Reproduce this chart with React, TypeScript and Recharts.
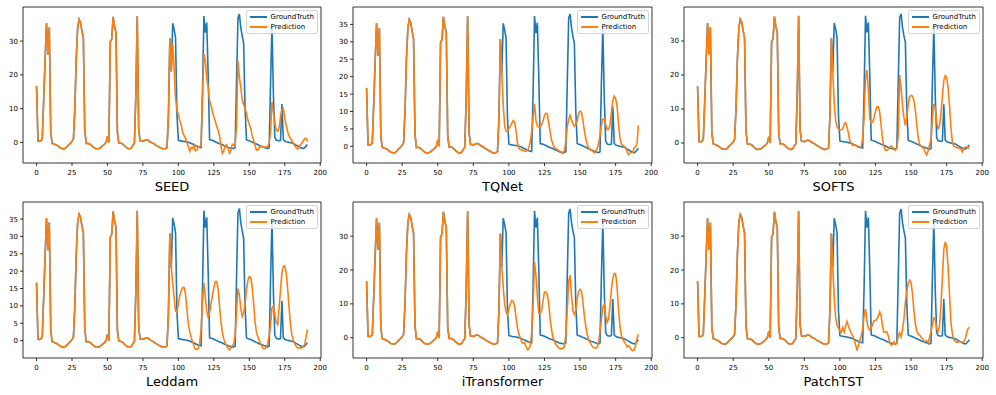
import { LineChart, Line, XAxis, YAxis, Legend, ReferenceLine } from "recharts"

// first 96 steps are the shared input window, the rest is the horizon
const HISTORY_LEN = 96

const groundTruth = [
  16.7, 0.4, 0.3, 0.5, 0.9, 12, 24, 35.3, 26, 34,
  3, -0.3, -0.4, -0.6, -0.8, -1.0, -1.4, -1.7, -1.8, -1.9,
  -1.8, -1.5, -1.0, -0.6, -0.2, 0.3, 1.0, 10, 25, 34,
  36.4, 35.5, 33, 31, 3.5, -0.3, -0.3, -0.4, -0.6, -1.0,
  -1.4, -1.7, -1.9, -1.9, -1.8, -1.6, -1.2, -0.9, -0.5, 0.0,
  1.8, 0.0, 29.8, 30.6, 37.2, 34.3, 32.7, 3.0, -0.2, -0.2,
  -0.3, -0.6, -1.0, -1.4, -1.7, -1.9, -1.9, -1.6, -0.8, -0.3,
  14, 37.4, 4, 0.5, 0.5, 0.4, 0.5, 0.8, 0.8, 0.6,
  0.2, 0.0, -0.2, -0.5, -0.8, -1.0, -1.3, -1.5, -1.7, -1.9,
  -1.9, -1.8, -1.5, 8, 30.8, 21, 35.3, 33.5, 31, 8,
  0.6, 0.5, 0.4, 0.3, 0.3, 0.2, 0.1, 0.0, -0.1, -0.3,
  -0.5, -0.7, -0.9, -1.1, -1.3, -1.4, -1.5, 15, 37.4, 32.5,
  35.5, 20, 0.8, 0.7, 0.6, 0.4, 0.2, 0.0, -0.2, -0.4,
  -0.5, -0.7, -0.9, -1.1, -1.3, -1.5, -1.6, -1.7, -1.8, -1.8,
  -1.6, 18, 36.8, 38, 34, 31.5, 29.5, 10, 0.8, 0.6,
  0.5, 0.3, 0.1, -0.1, -0.3, -0.5, -0.7, -0.9, -1.1, -1.2,
  -1.4, -1.5, -1.7, -1.8, -1.6, 18, 34.5, 14, 1.5, 0.7,
  0.5, 0.5, 0.6, 11.4, 0.8, 0.4, 0.2, 0.1, 0.0, -0.1,
  -0.2, -0.3, -0.5, -0.8, -1.0, -1.3, -1.5, -1.7, -1.8, -1.6,
  -1.1, -0.6,
]

const predSEED = [
  29, 22, 13, 9.5, 8.2, 6.5, 5.2, 3, 2, 1.2,
  0, -1.3, -2.6, -1.5, -1.8, -0.8, -2.5, -2.2, -1.5, -1.3,
  -0.8, 13.5, 26.2, 24.2, 18.8, 16.4, 12.4, 11, 9, 7.5,
  6.3, 4.8, 3.6, 2, -1.0, -3.2, -2.5, -1.0, -0.7, -1.7,
  -3.2, -2.4, -0.5, -0.8, -0.8, 5, 24.2, 19.3, 16.4, 12.6,
  11.3, 10, 8.6, 6.6, 5.3, 4.2, 2, 0.8, -0.8, -2.3,
  -2.3, -1.6, -1.3, -1.3, -1.4, -1.5, -1.3, -1.3, -0.2, 3,
  12, 9, 5.8, 3.8, 3.3, 4.2, 7.5, 9.7, 10, 7.3,
  5, 3.3, 2, 1.2, 0.5, -0.3, -0.9, -1.5, -2, -1.6,
  -0.6, -0.3, 0.5, 1.1, 1.2, 0.3,
]

const predTQNet = [
  12, 6, 4.3, 4.2, 5.1, 5.8, 6.6, 7.4, 7.0, 4.5,
  1.0, -0.5, -1, -1, -1.2, -1.5, -1.4, -1.1, -0.5, 1.5,
  4, 8.3, 12.2, 7.5, 5.8, 5.5, 5.5, 6.2, 7.3, 8.9,
  9.5, 9.3, 6.5, 4, 1.7, 0.5, -0.4, -0.7, -1, -1.2,
  -1.5, -1.9, -2, -1.3, 1.5, 5.5, 7.8, 8.9, 7.5, 6.5,
  5.8, 6.3, 7.4, 9.4, 10.1, 9.8, 7.5, 4.5, 2.2, 0.6,
  -0.4, -0.8, -1.2, -1.5, -1.9, -1.6, -0.6, 0.8, 3, 6.2,
  7.7, 8.0, 6.3, 4.8, 4.9, 6, 9.8, 13, 14.4, 13.8,
  11.5, 6.5, 2.5, 0.7, 0.3, 0, -0.5, -1.5, -2.4, -2,
  -1.8, -1.8, -0.4, -0.2, 0.8, 6,
]

const predSOFTS = [
  12, 6.5, 4.8, 4.1, 3.8, 3.8, 4.2, 5.5, 6, 4.8,
  2.8, 0.6, -0.2, -0.7, -0.6, -0.6, -1.1, -1.3, -1.4, -1.0,
  1.5, 7.5, 19, 21.5, 15.5, 7, 6, 6.2, 7.5, 9.3,
  10.6, 10.6, 9, 5, 0.8, -1, -2.1, -2.1, -1.8, -1.3,
  -0.9, -1.2, -2, -2.1, -1.5, 2, 20, 16, 11, 7.4,
  5.2, 7.5, 11.5, 13.6, 14, 13.8, 12.5, 9.6, 5.5, 1.5,
  -0.4, -0.9, -1.4, -1.6, -2.8, -3.5, -2.3, -0.5, 0.8, 7,
  11.5, 10.5, 6, 4.2, 5, 8.6, 13.5, 18.3, 19.8, 19.3,
  16.5, 11, 4.7, 0.3, -1, -1.2, -1.2, -1.5, -1.4, -1.8,
  -2.6, -1.6, -1.3, -1.2, -1.2, -1.7,
]

const predLeddam = [
  16.5, 12.5, 8.5, 8.2, 10.8, 13, 14.3, 15.3, 15.3, 13.5,
  9, 5, 2.5, 0.9, -0.3, -1.5, -2.5, -2.6, -2.2, -0.8,
  3.3, 11.3, 16.6, 12.5, 8.5, 6.8, 8, 10.6, 13, 15.2,
  17, 17, 15, 10, 5.5, 2.3, 0.5, -0.7, -1.5, -2.1,
  -2.6, -2.1, -1.6, -0.9, 1.5, 8.5, 15, 13.2, 9.2, 7,
  8, 10.5, 14.5, 17.3, 18.4, 18.2, 15.5, 11, 5.5, 2.5,
  1.2, 0, -0.9, -1.8, -2.3, -2.3, -2.0, -0.9, 1.5, 4.5,
  9.5, 10, 7.5, 5.2, 4.6, 9.5, 14.5, 19.5, 21.3, 21.5,
  19.5, 15.2, 9.7, 4.8, 1.5, 0.2, -0.9, -1.6, -2.1, -2.1,
  -2.1, -2.1, -1.6, -1.2, 1, 3.2,
]

const predITransformer = [
  15, 10, 7.5, 6.8, 8.6, 10, 11, 10.7, 9.4, 6,
  3, 1, 0, -1.2, -1.7, -1.4, -2.6, -3.6, -3.3, -2.3,
  1.5, 9.5, 22.4, 18.4, 12, 7.3, 7.1, 8, 11, 13.5,
  13.5, 12.8, 10, 5.5, 2.2, 0, -1.1, -2, -2.5, -3,
  -3.3, -3.3, -3.2, -2.5, 1, 8, 16.5, 18.5, 12.5, 8,
  6.8, 8, 11.5, 13.6, 14.3, 13.8, 10.5, 6.5, 3.5, 1,
  -0.6, -1.4, -2.2, -2.8, -3, -3.1, -2.9, -1.5, 2, 5.3,
  9, 9.8, 6.5, 4.5, 5.5, 9.2, 14.2, 17.5, 19, 18.8,
  15, 8.5, 3.5, 0.8, -0.5, -1.1, -1.8, -2.7, -2.4, -2.8,
  -3.6, -3.8, -3.6, -2.3, -0.3, 1,
]

const predPatchTST = [
  12, 6, 3.6, 2.8, 2, 1.6, 3, 1.7, 3.5, 4.8,
  3.4, 2.3, 1.3, 0.6, -0.5, -2, -3.8, -2.2, -0.8, 0.6,
  2.5, 6.5, 8.5, 5, 2.8, 2.2, 3, 3.9, 5, 5.1,
  5.5, 6.3, 7.6, 6.5, 3.3, 1.6, 1.6, 1.7, 0.5, -1.5,
  -2.2, -2.0, -1.2, -2.0, -1.7, 0.5, 1.5, 0.3, 2.4, 5.5,
  10.5, 13.6, 16, 17, 16.3, 13, 8, 4.1, 2, 1.1,
  0.8, 0.2, -0.3, -1, -1.1, -0.9, -1.6, 0.1, 1.8, 3.8,
  5.8, 5.2, 2.6, 1.8, 3.5, 9.6, 17.5, 26, 28.3, 27,
  21, 13, 4.6, 1.2, -0.5, -1, -1.3, -1.3, -1.2, -1.2,
  -1.3, -1.2, -0.4, 1.2, 2.7, 3.1,
]

const xTicks = [0, 25, 50, 75, 100, 125, 150, 175, 200]
const yTicksBy10 = [0, 10, 20, 30]
const yTicksBy5 = [0, 5, 10, 15, 20, 25, 30, 35]

const BLUE = "#1f77b4"
const ORANGE = "#ff7f0e"
const X_DOMAIN: [number, number] = [-9.55, 200.55]
const PLOT_H = 156
const Y_AXIS_W = 30
const X_AXIS_H = 31
const RIGHT_PAD = 10

const panels = [
  { title: "SEED", pred: predSEED, yTicks: yTicksBy10, yDomain: [-6.1, 40.1], left: 23, top: 7, width: 298 },
  { title: "TQNet", pred: predTQNet, yTicks: yTicksBy5, yDomain: [-4.8, 40.0], left: 353, top: 7, width: 299 },
  { title: "SOFTS", pred: predSOFTS, yTicks: yTicksBy10, yDomain: [-5.9, 40.0], left: 684, top: 7, width: 299 },
  { title: "Leddam", pred: predLeddam, yTicks: yTicksBy5, yDomain: [-5.0, 39.9], left: 23, top: 202, width: 298 },
  { title: "iTransformer", pred: predITransformer, yTicks: yTicksBy10, yDomain: [-6.0, 40.1], left: 353, top: 202, width: 299 },
  { title: "PatchTST", pred: predPatchTST, yTicks: yTicksBy10, yDomain: [-6.0, 40.1], left: 684, top: 202, width: 299 },
]

const axisLine = { stroke: "#000", strokeWidth: 0.8 }
const tickStyle = { fontSize: 7, fill: "#000" }

const renderLegend = (props: any) => (
  <div
    style={{
      border: "1px solid #d4d4d4",
      borderRadius: 2,
      background: "rgba(255,255,255,0.8)",
      padding: "0.5px 3px",
    }}
  >
    {(props.payload || []).map((entry: any) => (
      <div key={entry.value} style={{ display: "flex", alignItems: "center", height: 10.5 }}>
        <span style={{ display: "inline-block", width: 17, borderTop: `2px solid ${entry.color}` }} />
        <span style={{ marginLeft: 3.5, fontSize: 7, color: "#000", whiteSpace: "nowrap" }}>{entry.value}</span>
      </div>
    ))}
  </div>
)

interface PanelProps {
  title: string
  pred: number[]
  yTicks: number[]
  yDomain: number[]
  left: number
  top: number
  width: number
}

function Panel({ title, pred, yTicks, yDomain, left, top, width }: PanelProps) {
  const data = groundTruth.map((gt, i) => ({
    t: i,
    gt,
    pred: i < HISTORY_LEN ? gt : pred[i - HISTORY_LEN],
  }))

  return (
    <div style={{ position: "absolute", left: left - Y_AXIS_W, top: top - 1 }}>
      <LineChart
        width={width + Y_AXIS_W + RIGHT_PAD}
        height={PLOT_H + X_AXIS_H + 1}
        data={data}
        margin={{ top: 1, right: RIGHT_PAD, bottom: 0, left: 0 }}
      >
        <XAxis
          dataKey="t"
          type="number"
          domain={X_DOMAIN}
          ticks={xTicks}
          interval={0}
          allowDataOverflow
          height={X_AXIS_H}
          axisLine={axisLine}
          tickLine={{ stroke: "#000", strokeWidth: 0.8 }}
          tickSize={3}
          tickMargin={4}
          tick={tickStyle}
          label={{ value: title, position: "insideBottom", offset: 3, fontSize: 13, fill: "#000" }}
        />
        <YAxis
          type="number"
          domain={yDomain}
          ticks={yTicks}
          interval={0}
          allowDataOverflow
          width={Y_AXIS_W}
          axisLine={axisLine}
          tickLine={{ stroke: "#000", strokeWidth: 0.8 }}
          tickSize={3}
          tickMargin={2}
          tick={tickStyle}
        />
        {/* top and right spines */}
        <ReferenceLine y={yDomain[1]} stroke="#000" strokeWidth={0.8} ifOverflow="visible" />
        <ReferenceLine x={X_DOMAIN[1]} stroke="#000" strokeWidth={0.8} ifOverflow="visible" />
        <Legend
          layout="vertical"
          align="center"
          verticalAlign="middle"
          wrapperStyle={{ top: 4, right: RIGHT_PAD + 3 }}
          content={renderLegend}
        />
        <Line
          name="GroundTruth"
          dataKey="gt"
          stroke={BLUE}
          strokeWidth={1.6}
          dot={false}
          activeDot={false}
          isAnimationActive={false}
        />
        <Line
          name="Prediction"
          dataKey="pred"
          stroke={ORANGE}
          strokeWidth={1.6}
          dot={false}
          activeDot={false}
          isAnimationActive={false}
        />
      </LineChart>
    </div>
  )
}

export default function App() {
  return (
    <div
      style={{
        position: "absolute",
        left: 0,
        top: 0,
        width: 996,
        height: 395,
        background: "#fff",
        fontFamily: "'DejaVu Sans', sans-serif",
      }}
    >
      {panels.map((p) => (
        <Panel key={p.title} {...p} />
      ))}
    </div>
  )
}
